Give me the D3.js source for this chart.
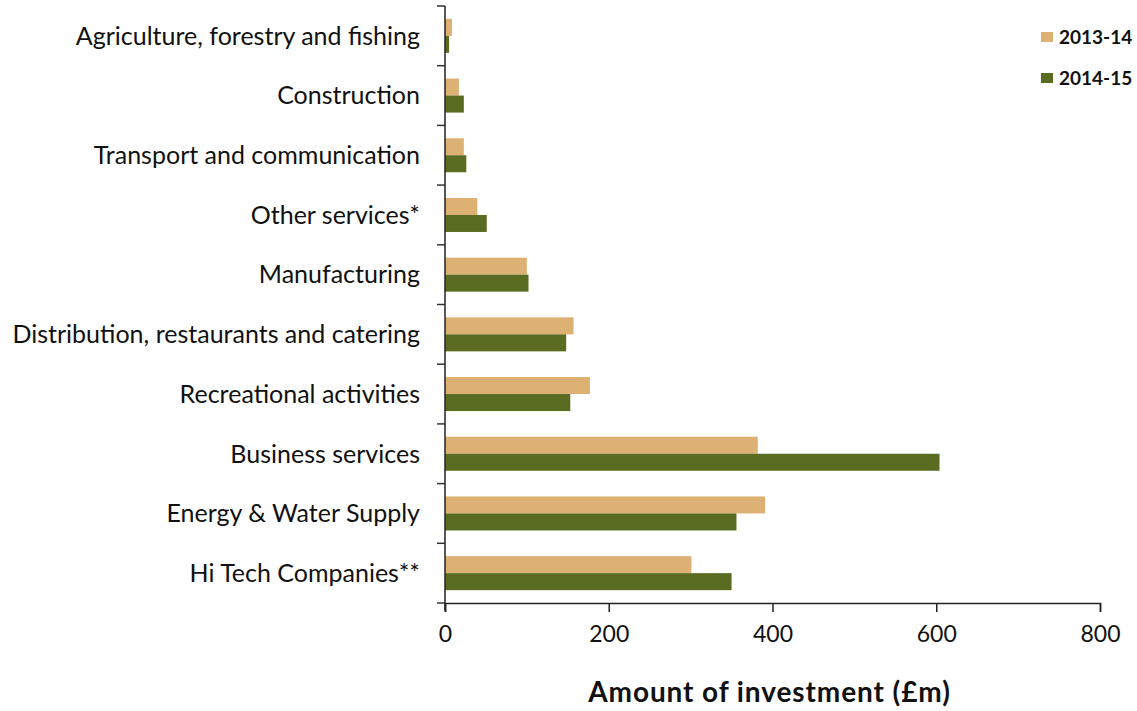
<!DOCTYPE html>
<html>
<head>
<meta charset="utf-8">
<script src="https://cdn.jsdelivr.net/npm/d3@7"></script>
<style>
  body { margin: 0; background: #fff; }
  svg { display: block; }
  text { font-family: Lato, "Open Sans", sans-serif; fill: #111; }
</style>
</head>
<body>
<svg id="chart" width="1137" height="711"></svg>
<script>
// Sectors, top to bottom
const categories = [
  "Agriculture, forestry and fishing",
  "Construction",
  "Transport and communication",
  "Other services*",
  "Manufacturing",
  "Distribution, restaurants and catering",
  "Recreational activities",
  "Business services",
  "Energy & Water Supply",
  "Hi Tech Companies**"
];
// Investment in £m
const values2013 = [8.5, 17, 23, 39.5, 100, 157, 177, 382, 391, 301];
const values2014 = [5, 23, 26, 51, 102, 148, 153, 604, 356, 350];
const seriesNames = ["2013-14", "2014-15"];
const seriesColors = ["#ddb173", "#5a6b22"];
const xTicks = [0, 200, 400, 600, 800];
const xTitle = "Amount of investment (£m)";

const svg = d3.select("#chart");
const plotLeft = 445, plotRight = 1100, plotTop = 6, plotBottom = 603;

const x = d3.scaleLinear().domain([0, 800]).range([plotLeft, plotRight]);
const y = d3.scaleBand().domain(categories).range([plotTop, plotBottom]).paddingInner(0.43).paddingOuter(0.215);
const sub = d3.scaleBand().domain(seriesNames).range([0, y.bandwidth()]);

const series = [values2013, values2014];

// Bars
series.forEach((vals, si) => {
  svg.append("g").selectAll("rect")
    .data(categories.map((c, i) => ({ c, v: vals[i] })))
    .join("rect")
    .attr("x", x(0))
    .attr("y", d => y(d.c) + sub(seriesNames[si]))
    .attr("width", d => x(d.v) - x(0))
    .attr("height", sub.bandwidth())
    .attr("fill", seriesColors[si]);
});

// Category tick marks at band boundaries
const boundaries = d3.range(categories.length + 1).map(i => plotTop + i * (plotBottom - plotTop) / categories.length);
svg.append("g").selectAll("line")
  .data(boundaries)
  .join("line")
  .attr("x1", plotLeft - 8).attr("x2", plotLeft)
  .attr("y1", d => d).attr("y2", d => d)
  .attr("stroke", "#333").attr("stroke-width", 1.5);

// Category labels
svg.append("g").selectAll("text")
  .data(categories)
  .join("text")
  .attr("x", plotLeft - 25)
  .attr("y", (d, i) => (boundaries[i] + boundaries[i + 1]) / 2)
  .attr("dy", "0.35em")
  .attr("text-anchor", "end")
  .style("font-size", "25px")
  .text(d => d);

// Axes lines
svg.append("line")
  .attr("x1", plotLeft).attr("x2", plotLeft)
  .attr("y1", plotTop).attr("y2", plotBottom + 8)
  .attr("stroke", "#222").attr("stroke-width", 1.5);

const xAxis = d3.axisBottom(x).tickValues(xTicks).tickSize(9).tickPadding(14).tickFormat(d3.format("d"));
const gx = svg.append("g").attr("transform", `translate(0,${plotBottom})`).call(xAxis);
gx.select(".domain").attr("stroke", "#222").attr("stroke-width", 1.5);
gx.selectAll(".tick line").attr("stroke", "#222").attr("stroke-width", 1.5);
gx.selectAll("text").style("font-size", "23px").style("font-family", "Lato, sans-serif").attr("fill", "#222");

// Axis title
svg.append("text")
  .attr("x", (plotLeft + plotRight) / 2 - 3)
  .attr("y", 702)
  .attr("text-anchor", "middle")
  .style("font-size", "28px")
  .style("font-weight", "bold")
  .style("letter-spacing", "0.9px")
  .text(xTitle);

// Legend
const legend = svg.append("g");
seriesNames.forEach((name, i) => {
  const ly = 37 + i * 41;
  legend.append("rect")
    .attr("x", 1041).attr("y", ly - 5)
    .attr("width", 12).attr("height", 10)
    .attr("fill", seriesColors[i]);
  legend.append("text")
    .attr("x", 1059).attr("y", ly)
    .attr("dy", "0.35em")
    .style("font-size", "19px")
    .style("font-weight", "bold")
    .text(name);
});
</script>
</body>
</html>
